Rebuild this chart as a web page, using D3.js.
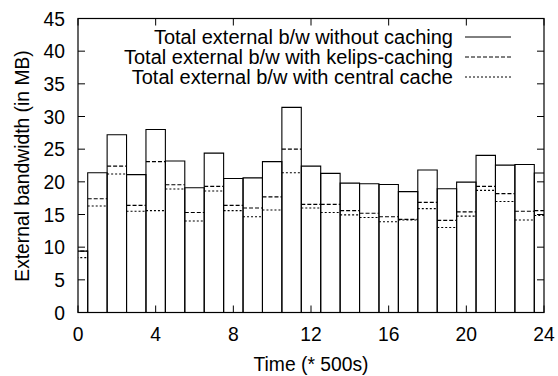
<!DOCTYPE html>
<html><head><meta charset="utf-8">
<script src="https://cdn.jsdelivr.net/npm/d3@7"></script>
<style>body{margin:0;background:#fff}svg{display:block}text{font-family:"Liberation Sans",Arial,sans-serif;fill:#000}</style>
</head><body>
<svg id="c" width="558" height="376"></svg>
<script>
const times = d3.range(0, 25);
const noCache = [9.4,21.4,27.2,21.1,28.0,23.2,19.1,24.4,20.5,20.6,23.1,31.4,22.4,21.3,19.8,19.7,19.6,18.5,21.8,18.95,19.95,24.05,22.55,22.65,21.35];
const kelips  = [9.4,17.4,22.4,16.4,23.1,19.55,15.3,19.3,16.4,16.0,17.7,25.0,16.55,16.55,15.6,15.2,14.65,14.25,16.85,14.1,15.4,19.3,18.2,15.5,15.6];
const central = [8.4,16.3,21.2,15.5,15.6,18.9,14.0,18.6,15.6,14.65,15.7,21.4,16.0,15.3,14.95,14.55,13.9,14.15,15.9,13.0,14.75,18.7,17.0,14.15,14.85];
const seriesNames = ["Total external b/w without caching","Total external b/w with kelips-caching","Total external b/w with central cache"];
const xTicks = [0,4,8,12,16,20,24];
const yTicks = [0,5,10,15,20,25,30,35,40,45];

const svg = d3.select("#c");
const L=78, R=544, T=18.5, B=312.5;
const FS = 19.3, LFS = 20;
const x = d3.scaleLinear().domain([0,24]).range([L,R]);
const y = d3.scaleLinear().domain([0,45]).range([B,T]);
const dashes = [null,"4,2","2,2"];
const all = [noCache,kelips,central];

svg.append("defs").append("clipPath").attr("id","cp").append("rect")
  .attr("x",L).attr("y",T-2).attr("width",R-L).attr("height",B-T+4);
const g = svg.append("g").attr("clip-path","url(#cp)");

all.forEach((vals,si)=>{
  const pts = times.map((t,i)=>({x0:x(t-0.5),x1:x(t+0.5),y:y(vals[i])}));
  if(si===0){
    g.selectAll(null).data(pts).join("path")
      .attr("d",d=>`M${d.x0},${B}V${d.y}H${d.x1}V${B}`)
      .attr("fill","none").attr("stroke","#000").attr("stroke-width",1.1);
  } else {
    g.selectAll(null).data(pts).join("path")
      .attr("d",d=>`M${d.x0},${d.y}H${d.x1}`)
      .attr("fill","none").attr("stroke","#000").attr("stroke-width",1.1)
      .attr("stroke-dasharray",dashes[si]);
  }
});

// ticks (inward, mirrored)
const tl = 7;
xTicks.forEach(t=>{
  svg.append("line").attr("x1",x(t)).attr("x2",x(t)).attr("y1",B).attr("y2",B-tl).attr("stroke","#000");
  svg.append("line").attr("x1",x(t)).attr("x2",x(t)).attr("y1",T).attr("y2",T+tl).attr("stroke","#000");
  svg.append("text").attr("x",x(t)).attr("y",341).attr("text-anchor","middle").attr("font-size",FS).text(t);
});
yTicks.forEach(t=>{
  svg.append("line").attr("x1",L).attr("x2",L+tl).attr("y1",y(t)).attr("y2",y(t)).attr("stroke","#000");
  svg.append("line").attr("x1",R).attr("x2",R-tl).attr("y1",y(t)).attr("y2",y(t)).attr("stroke","#000");
  svg.append("text").attr("x",L-13).attr("y",y(t)+7).attr("text-anchor","end").attr("font-size",FS).text(t);
});

svg.append("rect").attr("x",L).attr("y",T).attr("width",R-L).attr("height",B-T)
  .attr("fill","none").attr("stroke","#000").attr("stroke-width",1.2);

// legend
seriesNames.forEach((n,i)=>{
  const yy = 37 + i*20;
  svg.append("text").attr("x",453).attr("y",yy+7).attr("text-anchor","end").attr("font-size",LFS).text(n);
  svg.append("line").attr("x1",465).attr("x2",511).attr("y1",yy).attr("y2",yy)
    .attr("stroke","#000").attr("stroke-width",1).attr("stroke-dasharray",dashes[i]);
});

svg.append("text").attr("x",311).attr("y",371).attr("text-anchor","middle").attr("font-size",FS).text("Time (* 500s)");
svg.append("text").attr("transform","translate(29,166) rotate(-90)").attr("text-anchor","middle").attr("font-size",FS).text("External bandwidth (in MB)");
</script>
</body></html>
